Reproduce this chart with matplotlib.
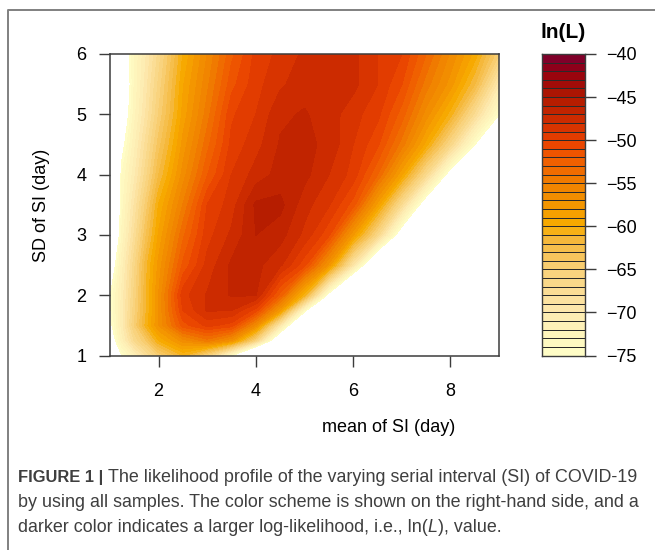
import numpy as np
import matplotlib
matplotlib.use("Agg")
import matplotlib.pyplot as plt
from matplotlib.colors import ListedColormap, BoundaryNorm, LinearSegmentedColormap

plt.rcParams['font.family'] = ['Liberation Sans', 'DejaVu Sans']

mean_si = [1, 1.25, 1.5, 1.75, 2, 2.5, 3, 3.5, 4, 4.5, 5, 5.5, 6, 6.5, 7, 7.5, 8, 8.5, 9]
sd_si = [1, 1.25, 1.5, 1.75, 2, 2.5, 3, 3.5, 4, 4.5, 5, 5.5, 6]
# log-likelihood; rows follow sd_si, columns follow mean_si
sd_100 = [-88, -75, -71.5, -68, -65, -61, -66, -75, -88, -100, -110, -120, -130, -140, -150, -160, -170, -180, -190]
sd_125 = [-78, -71.5, -67, -64, -60, -56.5, -54.5, -57, -66, -81, -96, -110, -120, -130, -140, -150, -160, -170, -180]
sd_150 = [-76, -70.5, -65, -60.5, -57, -51.5, -49.7, -50.5, -56.5, -70, -85, -100, -112, -124, -136, -148, -160, -172, -184]
sd_175 = [-75.5, -70.5, -65.5, -61, -57, -50, -47.9, -48, -50.5, -58, -74, -88, -103, -115, -127, -139, -151, -163, -175]
sd_200 = [-75.2, -70.7, -65.8, -61, -57, -49.4, -47.9, -46.9, -47, -52.5, -60.8, -76.5, -90, -105, -118, -130, -142, -154, -166]
sd_250 = [-78, -71.5, -66.4, -61.3, -57.7, -51.8, -48.65, -46.8, -46.7, -47.8, -50.7, -57.5, -69.5, -83, -95, -107, -119, -131, -143]
sd_300 = [-83, -72.8, -67.9, -63, -58.9, -53.3, -49.4, -47.8, -46, -46.6, -48.3, -50.8, -58, -66.5, -78, -90, -102, -114, -126]
sd_350 = [-85, -73.5, -69, -64.5, -60, -55, -50, -48.5, -45.8, -45.7, -47.6, -48.9, -51.5, -58.5, -67.5, -78, -90, -102, -115]
sd_400 = [-86, -74, -70.4, -66.3, -62.1, -56.6, -52.1, -49, -47.6, -46.6, -46.7, -48, -49.4, -53, -58.9, -67, -77, -88, -100]
sd_450 = [-88, -76, -71.4, -67.5, -63.6, -57.7, -53.4, -49.7, -48.4, -46.9, -46.7, -47.3, -49, -50.8, -54.5, -59.5, -66.5, -75, -85]
sd_500 = [-90, -78, -72.5, -68.8, -65, -58.7, -54.5, -50.2, -49, -47.2, -46.9, -47.5, -48.6, -49.7, -52.5, -56.5, -60.5, -67.5, -75]
sd_550 = [-90, -79, -73, -69.4, -65.8, -59.2, -55.3, -51.4, -49.4, -48.2, -47.4, -47.2, -47.7, -49, -51, -54.5, -57.5, -62, -70]
sd_600 = [-90, -78, -73, -70, -66.7, -60, -56, -52.3, -49.7, -48.7, -47.8, -47.4, -47.7, -49, -50, -53, -56.2, -59.4, -65]
log_lik = [sd_100, sd_125, sd_150, sd_175, sd_200, sd_250, sd_300, sd_350, sd_400, sd_450, sd_500, sd_550, sd_600]

x_ticks = [2, 4, 6, 8]
y_ticks = [1, 2, 3, 4, 5, 6]
cbar_ticks = [-40, -45, -50, -55, -60, -65, -70, -75]
levels = list(range(-75, -39))
anchor_vals = [-75, -70, -65, -61, -60, -58, -55, -52, -50, -47, -45, -42, -40]
anchor_cols = ['#ffffc8', '#fdeab0', '#f8d078', '#f5b431', '#f8ae00', '#f59b00',
               '#f08000', '#f05a00', '#e84000', '#c82800', '#b01a00', '#960010', '#7a0030']

W, H = 655, 550
fig = plt.figure(figsize=(W / 100, H / 100), dpi=100)

def box(l, t, r, b):
    return [l / W, 1 - b / H, (r - l) / W, (b - t) / H]

cmap = LinearSegmentedColormap.from_list(
    'lnL', [((v + 75) / 35, c) for v, c in zip(anchor_vals, anchor_cols)], N=256)
band_cols = ListedColormap([cmap((i + 0.5) / 35) for i in range(35)])
norm = BoundaryNorm(levels, 35)

INK = '#3c3c3c'
FS = 13

ax = fig.add_axes(box(110, 54, 499, 355.5))
cs = ax.contourf(mean_si, sd_si, np.array(log_lik), levels=levels, cmap=band_cols, norm=norm)
cs.set_edgecolor('face')
cs.set_linewidth(0.3)
ax.set_xlim(1, 9)
ax.set_ylim(1, 6)
ax.set_xticks(x_ticks)
ax.set_yticks(y_ticks)
ax.tick_params(length=8, width=1, color=INK, labelsize=FS, pad=9)
ax.tick_params(axis='x', pad=12)
for s in ax.spines.values():
    s.set_color(INK)
    s.set_linewidth(1.1)
fig.text(389 / W, 1 - 427.5 / H, 'mean of SI (day)', ha='center', va='center', fontsize=FS)
fig.text(41 / W, 1 - 205 / H, 'SD of SI (day)', rotation=90, ha='center', va='center', fontsize=FS)

cax = fig.add_axes(box(542, 54, 584.5, 355.5))
cax.pcolormesh([0, 1], levels, np.array(levels[:-1])[:, None] + 0.5, cmap=band_cols, norm=norm,
               edgecolors='#2a2a2a', linewidth=0.7)
cax.set_xlim(0, 1)
cax.set_ylim(-75, -40)
cax.set_xticks([])
cax.yaxis.tick_right()
cax.set_yticks(cbar_ticks)
cax.set_yticklabels(['\u2212%d' % abs(t) for t in cbar_ticks])
cax.tick_params(axis='y', length=8, width=1, color=INK, labelsize=FS, pad=7.5)
for s in cax.spines.values():
    s.set_color(INK)
    s.set_linewidth(1.0)
fig.text(563.5 / W, 1 - 33 / H, 'ln(L)', ha='center', va='center', fontsize=15, fontweight='bold')

# page frame
frame = '#808080'
fig.add_artist(plt.Line2D([8 / W, 8 / W, 1], [0, 1 - 10 / H, 1 - 10 / H], color=frame, lw=1.4))

# caption
CAP = '#3f3f3f'
CS = 12.9
renderer = fig.canvas.get_renderer()

def run(x, y, parts):
    for txt, size, kw in parts:
        fig.text(x / W, 1 - y / H, txt, fontsize=size, color=CAP, va='baseline', ha='left', **kw)
        probe = fig.text(0, 0, txt + '|', fontsize=size, **kw)
        bar = fig.text(0, 0, '|', fontsize=size, **kw)
        x += probe.get_window_extent(renderer).width - bar.get_window_extent(renderer).width
        probe.remove()
        bar.remove()

run(18, 482, [('FIGURE 1 | ', 11.9, {'fontweight': 'bold'}),
              ('The likelihood profile of the varying serial interval (SI) of COVID-19', CS, {})])
run(18, 507, [('by using all samples. The color scheme is shown on the right-hand side, and a', CS, {})])
run(18, 532, [('darker color indicates a larger log-likelihood, i.e., ln(', CS, {}),
              ('L', CS, {'style': 'italic'}), ('), value.', CS, {})])

fig.savefig('out.png', dpi=100)
